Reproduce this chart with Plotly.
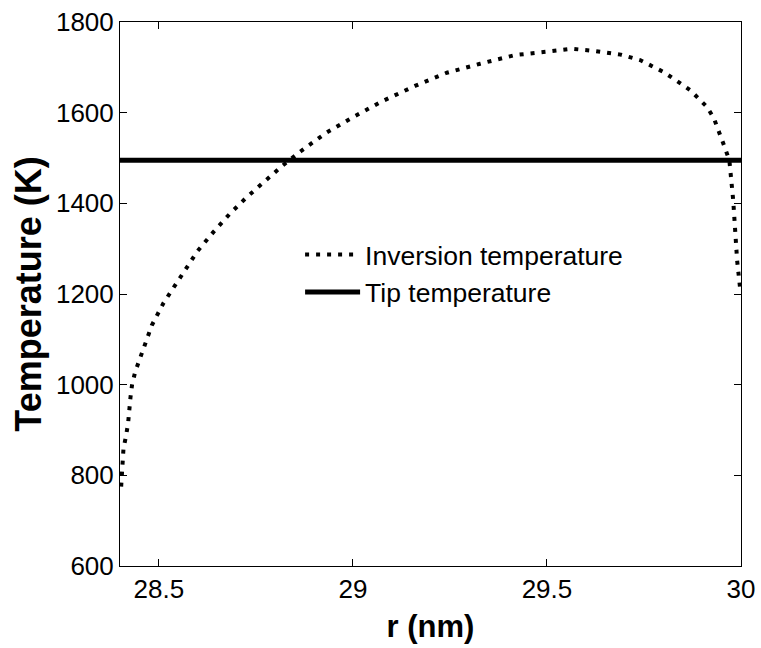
import plotly.graph_objects as go

# Inversion temperature curve
r_nm = [28.403, 28.409, 28.416, 28.421, 28.427, 28.431, 28.439, 28.46, 28.482, 28.512,
        28.564, 28.6, 28.641, 28.683, 28.727, 28.773, 28.82, 28.869, 28.93, 28.998,
        29.075, 29.16, 29.242, 29.328, 29.418, 29.504, 29.564, 29.624, 29.69, 29.74,
        29.80, 29.845, 29.87, 29.912, 29.93, 29.954, 29.97, 29.98, 29.99, 29.998]
T_inv = [775, 859, 889, 916, 972, 999, 1028, 1080, 1131, 1180,
         1250, 1295, 1337, 1377, 1414, 1449, 1484, 1517, 1555, 1589,
         1625, 1659, 1688, 1708, 1727, 1735, 1741, 1736, 1728, 1716,
         1690, 1664, 1649, 1613, 1588, 1533, 1495, 1406, 1274, 1210]

# Tip temperature (constant)
r_tip = [28.4, 30.0]
T_tip = [1495, 1495]

x_ticks = [28.5, 29, 29.5, 30]
x_tick_labels = ["28.5", "29", "29.5", "30"]
y_ticks = [600, 800, 1000, 1200, 1400, 1600, 1800]
y_tick_labels = ["600", "800", "1000", "1200", "1400", "1600", "1800"]

FONT = "Liberation Sans, Arial, Helvetica, sans-serif"

fig = go.Figure()
fig.add_trace(go.Scatter(
    x=r_nm, y=T_inv, mode="lines", name="Inversion temperature",
    line=dict(color="black", width=4, dash="4px,7px"),
))
fig.add_trace(go.Scatter(
    x=r_tip, y=T_tip, mode="lines", name="Tip temperature",
    line=dict(color="black", width=5),
))

axis_common = dict(
    showgrid=False, zeroline=False, automargin=False,
    showline=True, linecolor="black", linewidth=1, mirror="ticks",
    ticks="inside", ticklen=7, tickcolor="black", tickwidth=1,
    tickfont=dict(family=FONT, size=26, color="black"),
)

fig.update_layout(
    width=761, height=648,
    margin=dict(l=120, r=20, t=22, b=82),
    paper_bgcolor="white", plot_bgcolor="white",
    font=dict(family=FONT, color="black"),
    xaxis=dict(
        range=[28.4, 30], tickvals=x_ticks, ticktext=x_tick_labels,
        title=dict(text="<b>r (nm)</b>", font=dict(family=FONT, size=31), standoff=12),
        **axis_common,
    ),
    yaxis=dict(
        range=[600, 1800], tickvals=y_ticks, ticktext=y_tick_labels,
        title=dict(text="<b>Temperature (K)</b>", font=dict(family=FONT, size=36), standoff=3),
        **axis_common,
    ),
    legend=dict(
        x=0.29, y=0.616, xanchor="left", yanchor="top",
        bgcolor="rgba(255,255,255,0)", borderwidth=0,
        font=dict(family=FONT, size=26.5, color="black"),
        itemwidth=55, tracegroupgap=0,
    ),
    showlegend=True,
)

fig.write_html("out.html")
